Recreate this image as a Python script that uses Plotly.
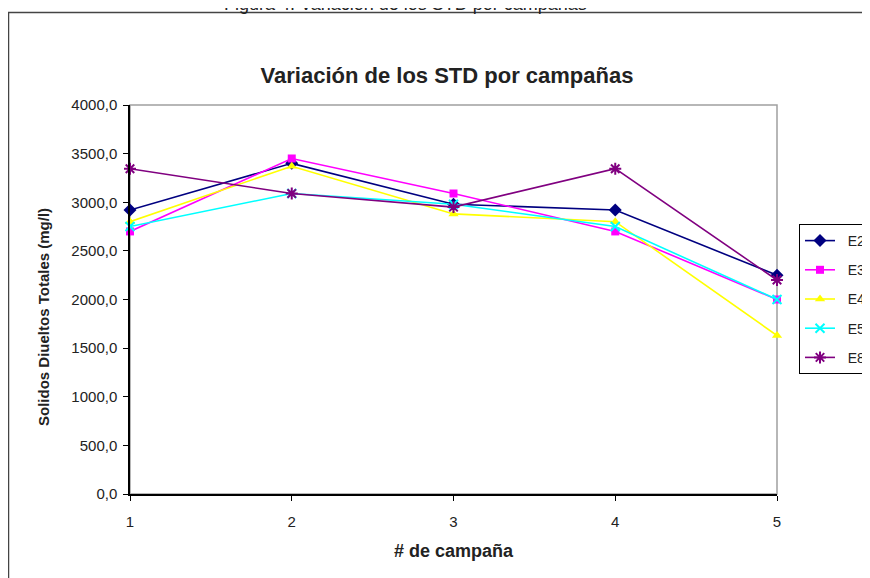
import plotly.graph_objects as go

campanas = [1, 2, 3, 4, 5]
E2 = [2920, 3400, 2980, 2920, 2250]
E3 = [2700, 3450, 3090, 2700, 2000]
E4 = [2800, 3370, 2880, 2800, 1630]
E5 = [2750, 3090, 2980, 2750, 2000]
E8 = [3345, 3090, 2950, 3345, 2200]

series = [
    ("E2", E2, "#000080", "diamond", 10),
    ("E3", E3, "#FF00FF", "square", 8),
    ("E4", E4, "#FFFF00", "triangle-up", 9),
    ("E5", E5, "#00FFFF", "x-thin-open", 9),
    ("E8", E8, "#800080", "asterisk-open", 10),
]

# page is offset by the browser's default 8px body margin
OFF = 8
W, H = 870 - OFF, 578 - OFF
# plot area in page pixels: x 130..777, y 105..494
L = 130 - OFF
T = 105 - OFF
R = W - (777 - OFF)
B = H - (494 - OFF)
pw, ph = W - L - R, H - T - B

def px(xpage):
    return (xpage - OFF - L) / pw

def py(ypage):
    return (494 - ypage) / ph

fig = go.Figure()
for name, vals, col, sym, sz in series:
    fig.add_trace(go.Scatter(
        x=campanas, y=vals, name="&nbsp;&nbsp;" + name + "&nbsp;&nbsp;&nbsp;&nbsp;",
        mode="lines+markers",
        line=dict(color=col, width=1.6),
        marker=dict(symbol=sym, size=sz, color=col,
                    line=dict(color=col, width=2 if "open" in sym else 0)),
        cliponaxis=False, legendgroup=name,
    ))

font = "Liberation Sans, Arial, sans-serif"
fig.update_layout(
    width=W, height=H,
    margin=dict(l=L, r=R, t=T, b=B, autoexpand=False),
    paper_bgcolor="white", plot_bgcolor="white",
    separators=",.",
    showlegend=True,
    font=dict(family=font, color="#222222", size=14),
    title=dict(text="<b>Variación de los STD por campañas</b>", x=(447 - OFF) / W, xanchor="center",
               y=1 - (75 - OFF) / H, yanchor="middle", font=dict(size=22, color="#222222")),
    xaxis=dict(range=[1, 5], dtick=1, tick0=1, showgrid=False, zeroline=False,
               showline=True, linecolor="black", linewidth=1.5,
               ticks="outside", ticklen=5, tickcolor="black",
               tickfont=dict(size=15), ticklabelstandoff=8,
               title=dict(text="<b># de campaña</b>", font=dict(size=18), standoff=16)),
    yaxis=dict(range=[0, 4000], dtick=500, tickformat=".1f", showgrid=False, zeroline=False,
               showline=True, linecolor="black", linewidth=1.5,
               ticks="outside", ticklen=5, tickcolor="black",
               tickfont=dict(size=15), ticklabelstandoff=3),
    legend=dict(x=px(799), y=py(224), xanchor="left", yanchor="top",
                bordercolor="black", borderwidth=1, bgcolor="white",
                font=dict(size=14, color="#222222"), tracegroupgap=8,
                traceorder="grouped", itemwidth=30),
    shapes=[
        dict(type="rect", xref="paper", yref="paper", x0=0, x1=1, y0=0, y1=1,
             line=dict(color="#A0A0A0", width=1.5), layer="below"),
        dict(type="rect", xref="paper", yref="paper", x0=px(8.5), x1=px(900), y0=py(12.5), y1=py(620),
             line=dict(color="#444444", width=1.5), layer="below"),
    ],
    annotations=[
        dict(text="Figura 4. Variación de los STD por campañas", xref="paper", yref="paper",
             x=px(222), y=py(16), xanchor="left", yanchor="bottom", showarrow=False,
             font=dict(size=18, color="#222222")),
        dict(text="<b>Solidos Diueltos Totales (mg/l)</b>", xref="paper", yref="paper",
             x=px(43), y=py(317), xanchor="center", yanchor="middle", textangle=-90,
             showarrow=False, font=dict(size=15, color="#222222")),
    ],
)

fig.write_html("out.html")
